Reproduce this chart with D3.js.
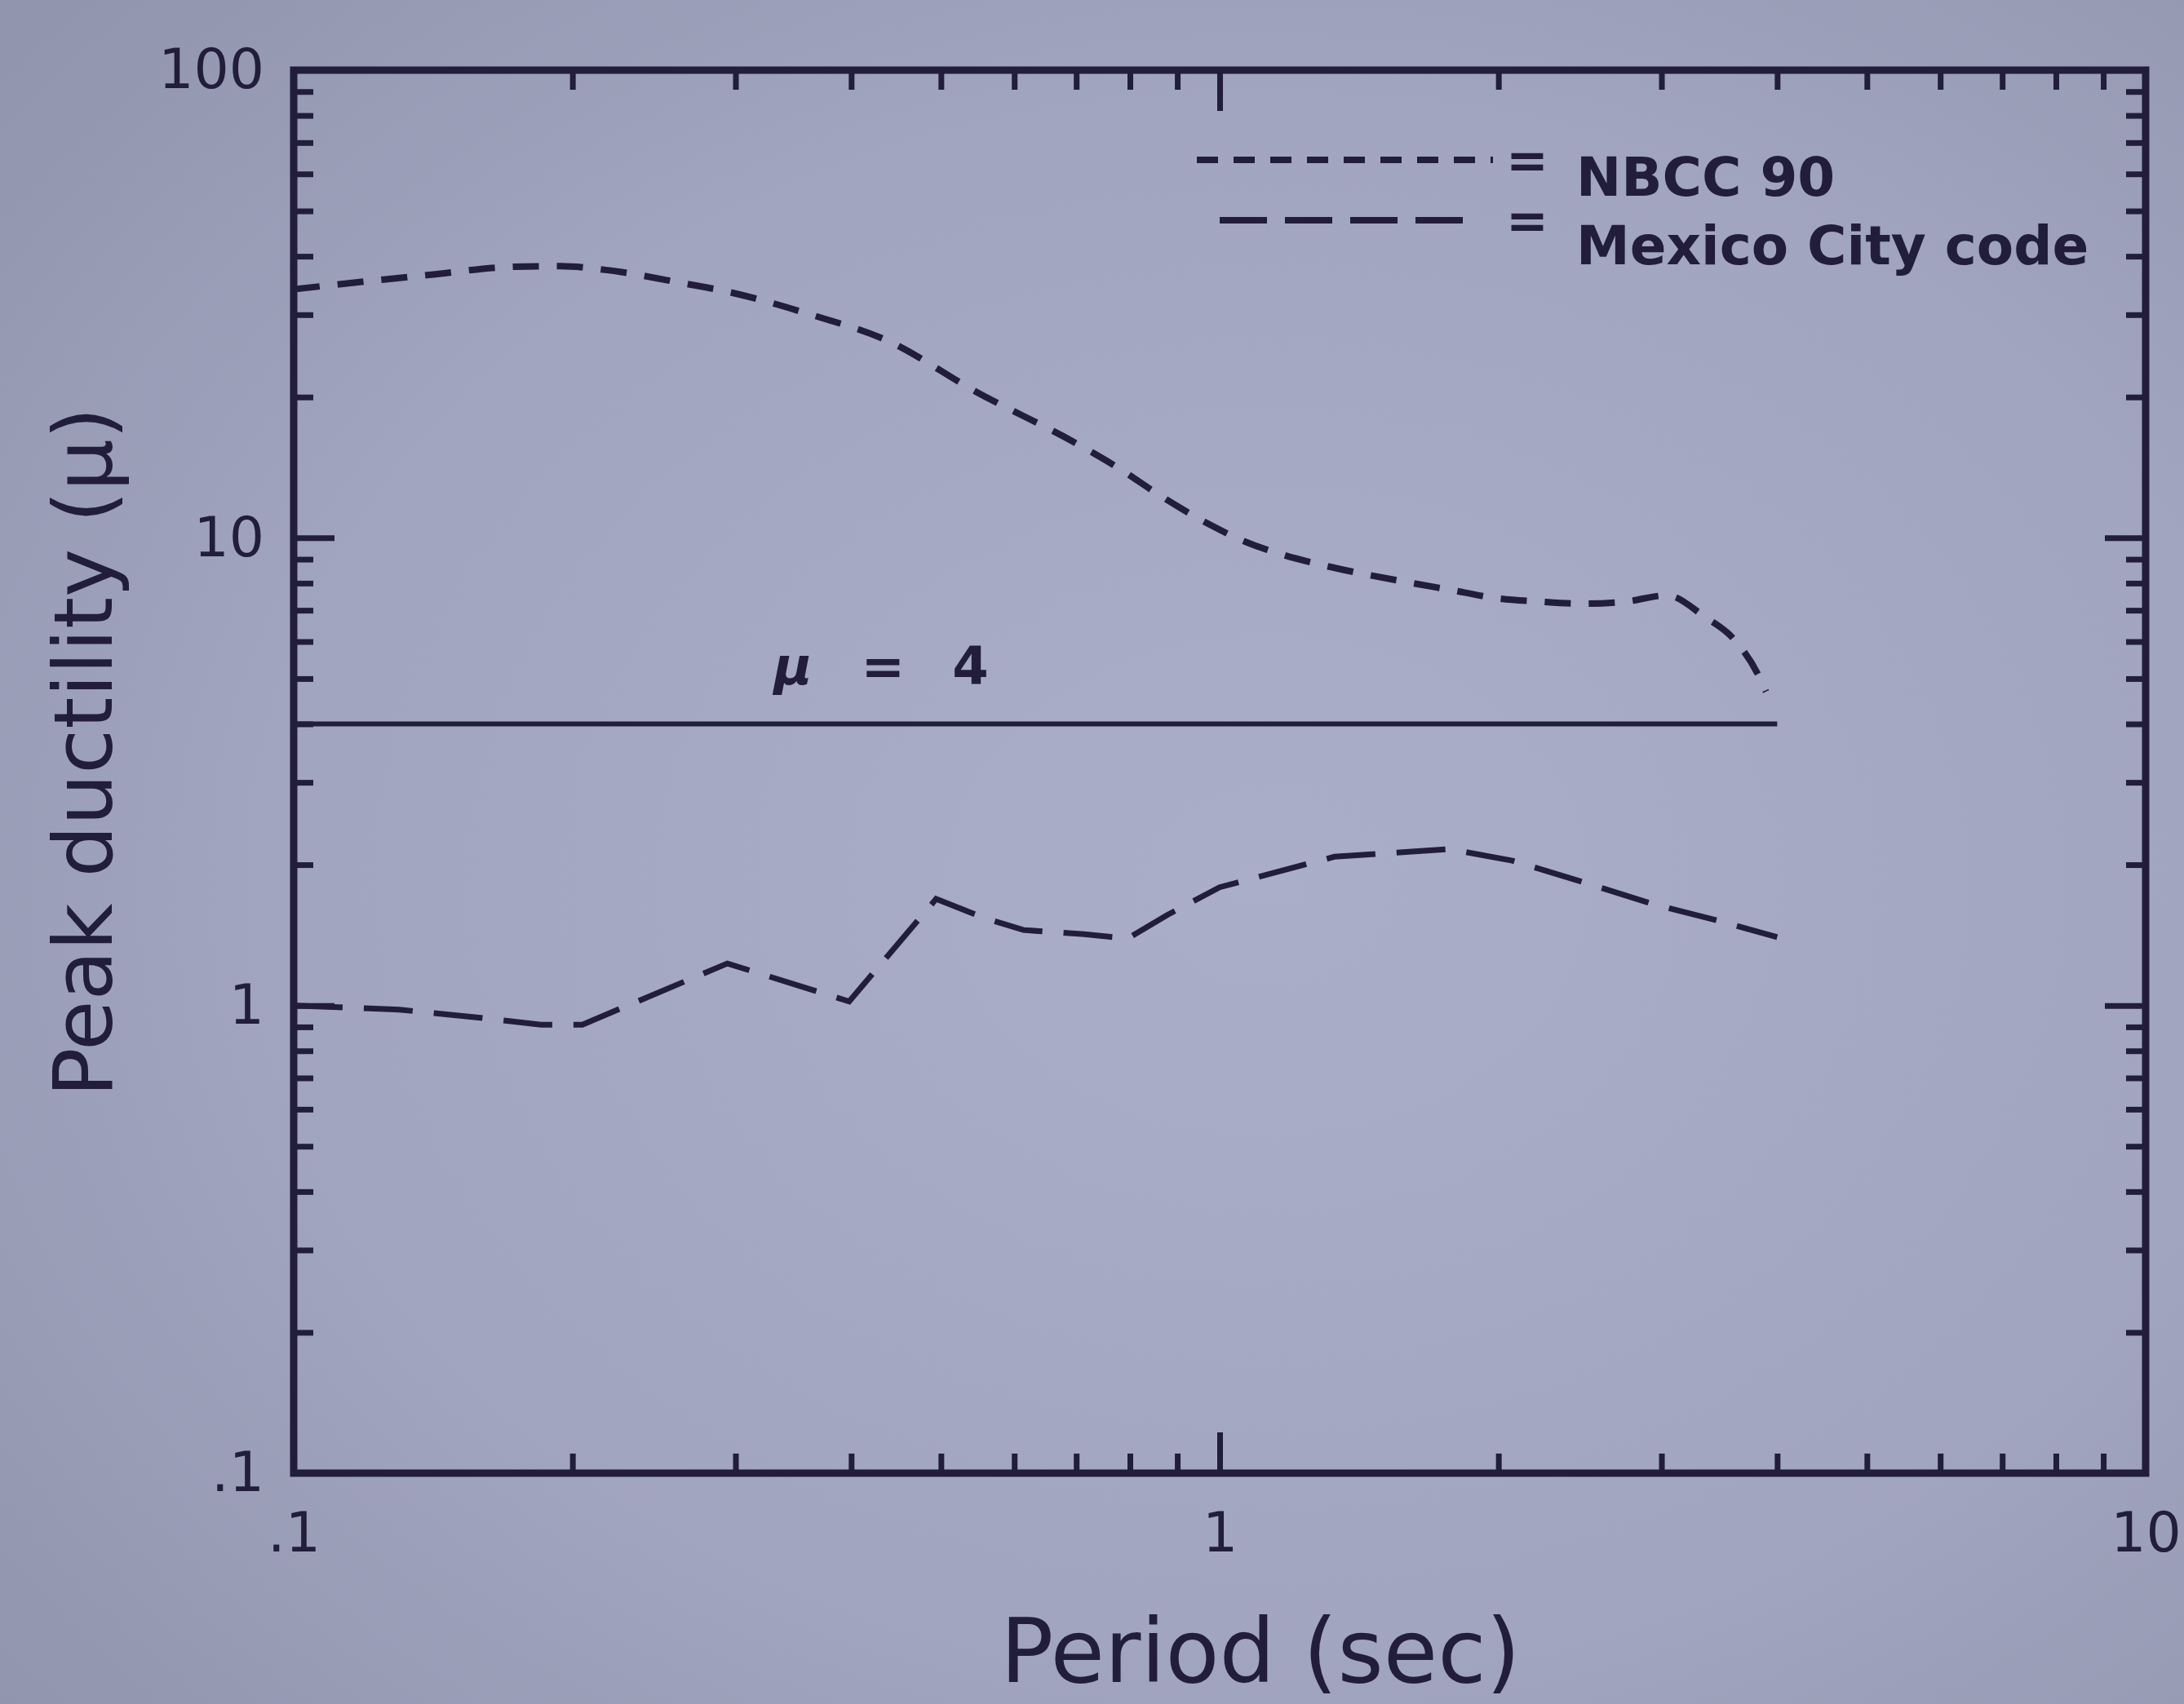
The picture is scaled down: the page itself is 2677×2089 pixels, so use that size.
<html>
<head>
<script src="https://cdn.jsdelivr.net/npm/d3@7"></script>
<style>
  body{ margin:0; background:#9ea2bc; }
  svg text{ font-family:"DejaVu Sans", sans-serif; fill:#211d3b; }
  .tick line{ stroke:#211d3b; stroke-width:7; }
</style>
</head>
<body>
<svg id="chart" width="2677" height="2089"></svg>
<script>
// axis ticks
var periodTicks = [0.1, 1, 10];
var periodLabels = [".1", "1", "10"];
var ductTicks = [0.1, 1, 10, 100];
var ductLabels = [".1", "1", "10", "100"];

// NBCC 90 (short dashes)
var nbccPeriod = [0.1, 0.14, 0.173, 0.194, 0.217, 0.266, 0.29, 0.364, 0.436, 0.544, 0.713, 0.782, 0.863, 0.982,
                  1.042, 1.159, 1.289, 1.439, 1.599, 1.774, 1.98, 2.205, 2.459, 2.736, 3.04, 3.34, 3.6, 3.83, 3.89];
var nbccDuct   = [34, 36.5, 38.0, 38.1, 37.4, 34.9, 33.8, 29.9, 26.5, 20.6, 15.6, 14.0, 12.3, 10.6,
                  10.0, 9.25, 8.75, 8.35, 8.03, 7.74, 7.44, 7.31, 7.23, 7.3, 7.53, 6.78, 6.04, 5.02, 4.69];

// Mexico City code (long dashes)
var mexPeriod = [0.1, 0.13, 0.16, 0.185, 0.205, 0.294, 0.398, 0.494, 0.556, 0.614, 0.714, 0.795, 0.877,
                 1.0, 1.13, 1.33, 1.49, 1.77, 2.07, 2.46, 2.93, 3.49, 4.0];
var mexDuct   = [1.0, 0.98, 0.94, 0.91, 0.91, 1.23, 1.02, 1.69, 1.54, 1.45, 1.42, 1.39, 1.56,
                 1.79, 1.91, 2.08, 2.11, 2.16, 2.04, 1.84, 1.65, 1.51, 1.40];

// mu = 4 reference line
var muValue = 4;
var muPeriod = [0.1, 4.0];

var legendNames = ["NBCC 90", "Mexico City code"];

var W = 2677, H = 2089;
var m = {left: 360, right: 2630, top: 86, bottom: 1806};
var ink = "#211d3b";

var svg = d3.select("#chart");

var grad = svg.append("defs").append("radialGradient")
	.attr("id", "paper").attr("cx", "58%").attr("cy", "52%").attr("r", "75%");
grad.append("stop").attr("offset", "0%").attr("stop-color", "#aaaec8");
grad.append("stop").attr("offset", "60%").attr("stop-color", "#a1a5bf");
grad.append("stop").attr("offset", "100%").attr("stop-color", "#9195ae");
svg.append("rect").attr("width", W).attr("height", H).attr("fill", "url(#paper)");

var x = d3.scaleLog().domain([0.1, 10]).range([m.left, m.right]);
var y = d3.scaleLog().domain([0.1, 100]).range([m.bottom, m.top]);

function isMajor(t){
	var l = Math.log10(t);
	return Math.abs(l - Math.round(l)) < 1e-6;
}
var xMinor = x.ticks().filter(function(t){ return !isMajor(t); });
var yMinor = y.ticks().filter(function(t){ return !isMajor(t); });

function noDomain(g){ g.select(".domain").remove(); }

// minor + major ticks, all pointing inward
[[d3.axisBottom, "translate(0," + m.bottom + ")", x, xMinor, [1]],
 [d3.axisTop, "translate(0," + m.top + ")", x, xMinor, [1]],
 [d3.axisLeft, "translate(" + m.left + ",0)", y, yMinor, [1, 10]],
 [d3.axisRight, "translate(" + m.right + ",0)", y, yMinor, [1, 10]]].forEach(function(a){
	svg.append("g").attr("transform", a[1])
		.call(a[0](a[2]).tickValues(a[3]).tickSize(-24).tickFormat(""))
		.call(noDomain);
	svg.append("g").attr("transform", a[1])
		.call(a[0](a[2]).tickValues(a[4]).tickSize(-50).tickFormat(""))
		.call(noDomain);
});

// tick labels
svg.append("g").attr("transform", "translate(0," + m.bottom + ")")
	.call(d3.axisBottom(x).tickValues(periodTicks).tickSize(0).tickPadding(48)
		.tickFormat(function(d, i){ return periodLabels[i]; }))
	.call(noDomain)
	.selectAll("text").attr("font-size", 68).attr("fill", ink);

svg.append("g").attr("transform", "translate(" + m.left + ",0)")
	.call(d3.axisLeft(y).tickValues(ductTicks).tickSize(0).tickPadding(36)
		.tickFormat(function(d, i){ return ductLabels[i]; }))
	.call(noDomain)
	.selectAll("text").attr("font-size", 68).attr("fill", ink);

// frame
svg.append("rect")
	.attr("x", m.left).attr("y", m.top)
	.attr("width", m.right - m.left).attr("height", m.bottom - m.top)
	.attr("fill", "none").attr("stroke", ink).attr("stroke-width", 9);

var line = d3.line()
	.x(function(d){ return x(d[0]); })
	.y(function(d){ return y(d[1]); });

// mu = 4
svg.append("path")
	.datum(muPeriod.map(function(p){ return [p, muValue]; }))
	.attr("d", line)
	.attr("fill", "none").attr("stroke", ink).attr("stroke-width", 6);

var muLabel = svg.append("text")
	.attr("x", x(0.33)).attr("y", y(muValue) - 48)
	.attr("font-size", 64).attr("font-weight", "bold");
muLabel.append("tspan").attr("font-style", "italic").text("\u03bc");
muLabel.append("tspan").attr("dx", 60).text("=");
muLabel.append("tspan").attr("dx", 58).text("4");

// NBCC 90
svg.append("path")
	.datum(d3.zip(nbccPeriod, nbccDuct))
	.attr("d", line.curve(d3.curveMonotoneX))
	.attr("fill", "none").attr("stroke", ink).attr("stroke-width", 8)
	.attr("stroke-dasharray", "32,22");

// Mexico City code
svg.append("path")
	.datum(d3.zip(mexPeriod, mexDuct))
	.attr("d", line.curve(d3.curveLinear))
	.attr("fill", "none").attr("stroke", ink).attr("stroke-width", 7)
	.attr("stroke-dasharray", "60,26");

// legend
var legend = [
	{name: legendNames[0], x1: 1467, x2: 1830, y: 196, dash: "26,19", ty: 240},
	{name: legendNames[1], x1: 1495, x2: 1796, y: 270, dash: "58,22", ty: 324}
];
legend.forEach(function(d){
	svg.append("line")
		.attr("x1", d.x1).attr("x2", d.x2).attr("y1", d.y).attr("y2", d.y)
		.attr("stroke", ink).attr("stroke-width", 8).attr("stroke-dasharray", d.dash);
	svg.append("text")
		.attr("x", 1872).attr("y", d.y + 22)
		.attr("text-anchor", "middle")
		.attr("font-size", 62).attr("font-weight", "bold")
		.text("=");
	svg.append("text")
		.attr("x", 1932).attr("y", d.ty)
		.attr("font-size", 66).attr("font-weight", "bold")
		.text(d.name);
});

// axis titles
svg.append("text")
	.attr("x", 1545).attr("y", 2062)
	.attr("text-anchor", "middle")
	.attr("font-size", 108)
	.text("Period (sec)");

svg.append("text")
	.attr("transform", "translate(137,922) rotate(-90)")
	.attr("text-anchor", "middle")
	.attr("font-size", 100)
	.text("Peak ductility (\u03bc)");
</script>
</body>
</html>
